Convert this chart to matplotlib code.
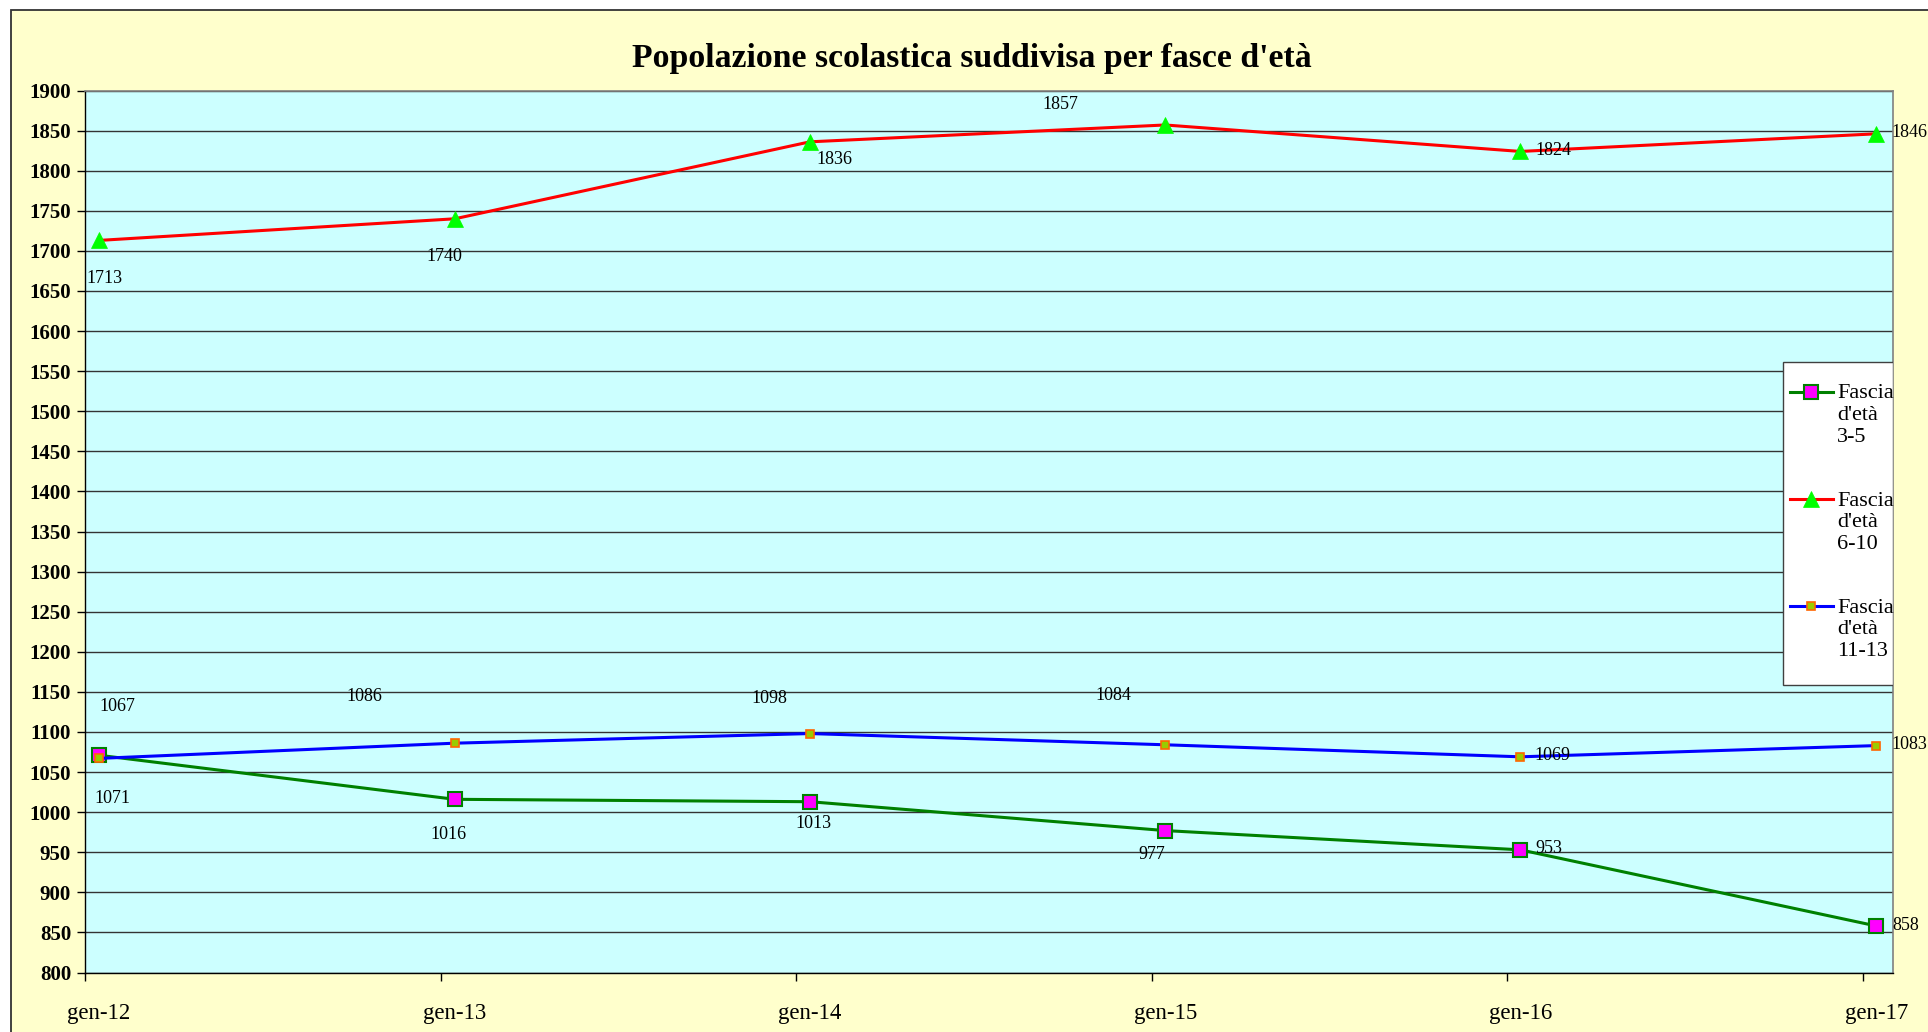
import matplotlib
matplotlib.use('Agg')
import matplotlib.pyplot as plt
from matplotlib.legend_handler import HandlerLine2D
from matplotlib.patches import Rectangle
import numpy as np
import datetime as dt

# ---------------- data ----------------
categories = ['gen-12', 'gen-13', 'gen-14', 'gen-15', 'gen-16', 'gen-17']
years = [2012, 2013, 2014, 2015, 2016, 2017]
fascia_3_5 = [1071, 1016, 1013, 977, 953, 858]
fascia_6_10 = [1713, 1740, 1836, 1857, 1824, 1846]
fascia_11_13 = [1067, 1086, 1098, 1084, 1069, 1083]
series_labels = ["Fascia\nd'età\n3-5", "Fascia\nd'età\n6-10", "Fascia\nd'età\n11-13"]
y_ticks = list(range(800, 1901, 50))
title = "Popolazione scolastica suddivisa per fasce d'età"

# ---------------- style ----------------
SERIF = ['Liberation Serif', 'DejaVu Serif']
plt.rcParams['font.family'] = SERIF

data_dates = [dt.date(y, 1, 15) for y in years]
tick_dates = [dt.date(y, 1, 1) for y in years]

# label offsets in pixels (dx right, dy down) and alignment
off_6_10 = [(6, 38, 'center'), (-10, 38, 'center'), (24, 18, 'center'),
            (-105, -20, 'center'), (15, -1, 'left'), (15, -1, 'left')]
off_3_5 = [(14, 43, 'center'), (-6, 35, 'center'), (4, 22, 'center'),
           (-13, 24, 'center'), (15, -1, 'left'), (16, 0, 'left')]
off_11_13 = [(19, -52, 'center'), (-90, -47, 'center'), (-41, -35, 'center'),
             (-52, -49, 'center'), (14, -1, 'left'), (15, -1, 'left')]

fig = plt.figure(figsize=(19.28, 10.32), dpi=100)
fig.patch.set_facecolor('white')

# chart area background (yellow with dark border)
bg = Rectangle((11 / 1928, -0.05), 1.2, 1.05 - 10 / 1032,
               transform=fig.transFigure, facecolor='#FFFFCC',
               edgecolor='#333333', linewidth=1.3, zorder=-1)
fig.add_artist(bg)

ax = fig.add_axes([85 / 1928, 1 - 972.5 / 1032, (1893 - 85) / 1928, (972.5 - 90.5) / 1032])
ax.set_facecolor('#CCFFFF')
ax.set_axisbelow(True)

l1, = ax.plot(data_dates, fascia_3_5, color='#008000', lw=2.2, marker='s',
              ms=10, mfc='#FF00FF', mec='#008000', mew=1.5, zorder=3)
l2, = ax.plot(data_dates, fascia_6_10, color='#FF0000', lw=2.2, marker='^',
              ms=12, mfc='#00FF00', mec='#00FF00', mew=0.5, zorder=3)
l3, = ax.plot(data_dates, fascia_11_13, color='#0000FF', lw=2.2, marker='s',
              ms=6, mfc='#99CC00', mec='#FF6600', mew=1.2, zorder=3)

for vals, offs in ((fascia_6_10, off_6_10), (fascia_3_5, off_3_5), (fascia_11_13, off_11_13)):
    for d, v, (dx, dy, ha) in zip(data_dates, vals, offs):
        ax.annotate(str(v), xy=(d, v), xytext=(dx, -dy), textcoords='offset pixels',
                    ha=ha, va='center', fontsize=13, color='black', zorder=6,
                    annotation_clip=False)

ax.set_ylim(800, 1900)
ax.set_yticks(y_ticks)
ax.set_yticklabels([str(t) for t in y_ticks], fontsize=15, fontweight='bold')
ax.yaxis.grid(True, color='#333333', lw=1.0)
ax.tick_params(axis='y', direction='out', length=6, width=1, pad=4)

ax.set_xlim(dt.date(2012, 1, 1), dt.date(2017, 2, 1))
ax.set_xticks(data_dates)
ax.set_xticklabels(categories, fontsize=16.5)
ax.set_xticks(tick_dates, minor=True)
ax.tick_params(axis='x', which='major', length=0, pad=22)
ax.tick_params(axis='x', which='minor', direction='out', length=6, width=1)

for s in ('left', 'bottom'):
    ax.spines[s].set_color('black')
    ax.spines[s].set_linewidth(1)
for s in ('top', 'right'):
    ax.spines[s].set_color('#808080')
    ax.spines[s].set_linewidth(1.2)

fig.text(0.504, 0.943, title, ha='center', va='center', fontsize=24.3,
         fontweight='bold', family=SERIF)


# legend with handle aligned to first text line
class TopHandler(HandlerLine2D):
    def __init__(self, shift, **kw):
        super().__init__(**kw)
        self.shift = shift

    def create_artists(self, legend, orig_handle, xdescent, ydescent, width,
                       height, fontsize, trans):
        arts = super().create_artists(legend, orig_handle, xdescent, ydescent,
                                      width, height, fontsize, trans)
        for a in arts:
            a.set_ydata(np.asarray(a.get_ydata(), dtype=float) + self.shift)
        return arts


LFS = 16
frame = Rectangle((0.939, 0.326), 0.061, 0.366, transform=ax.transAxes,
                  facecolor='white', edgecolor='#404040', lw=1, zorder=7)
ax.add_patch(frame)
h = TopHandler(shift=1.2 * LFS - 2.5)
leg = ax.legend([l1, l2, l3], series_labels, loc='upper left',
                bbox_to_anchor=(0.943, 0.6667), frameon=False, borderpad=0,
                borderaxespad=0, fontsize=LFS, handlelength=1.94,
                handletextpad=0.18, labelspacing=2.0,
                handler_map={l1: h, l2: h, l3: h})
leg.set_zorder(8)

fig.savefig('out.png', dpi=100)
